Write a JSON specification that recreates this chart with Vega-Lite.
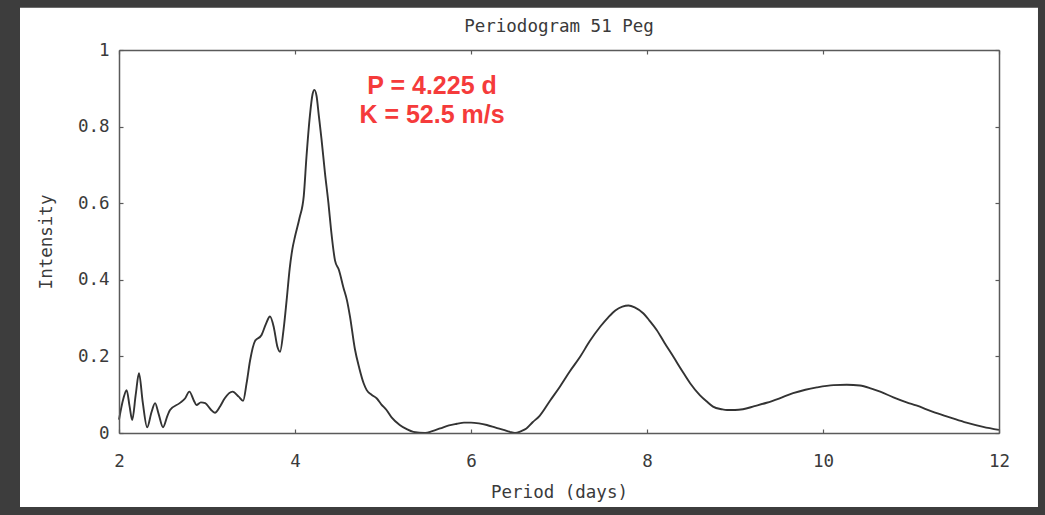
{
  "$schema": "https://vega.github.io/schema/vega-lite/v6.json",
  "width": 880,
  "height": 383,
  "autosize": {"type": "none"},
  "padding": {"left": 119, "top": 50, "right": 46, "bottom": 82},
  "background": "#3d3d3d",
  "title": {
    "text": "Periodogram 51 Peg",
    "anchor": "middle",
    "frame": "group",
    "font": "DejaVu Sans Mono",
    "fontSize": 17.5,
    "fontWeight": "normal",
    "color": "#3a3a3a",
    "offset": 0,
    "dy": 28,
    "zindex": 2
  },
  "config": {
    "view": {"stroke": null},
    "axis": {
      "labelFont": "DejaVu Sans Mono",
      "labelFontSize": 17.5,
      "labelColor": "#3a3a3a",
      "labelFlush": false,
      "titleFont": "DejaVu Sans Mono",
      "titleFontSize": 17.5,
      "titleFontWeight": "normal",
      "titleColor": "#3a3a3a",
      "grid": false,
      "domain": true,
      "domainColor": "#5a5a5a",
      "domainWidth": 1.5,
      "tickColor": "#5a5a5a",
      "tickSize": -4,
      "tickWidth": 1.2
    }
  },
  "datasets": {
    "panel": [{"x0": 0.875, "x1": 12.443, "y0": -0.193, "y1": 1.11}],
    "periodogram": [
      {"period": 2.00, "intensity": 0.035},
      {"period": 2.05, "intensity": 0.09},
      {"period": 2.087, "intensity": 0.112},
      {"period": 2.12, "intensity": 0.07},
      {"period": 2.15, "intensity": 0.034},
      {"period": 2.19, "intensity": 0.10},
      {"period": 2.227, "intensity": 0.156},
      {"period": 2.27, "intensity": 0.08},
      {"period": 2.32, "intensity": 0.015},
      {"period": 2.37, "intensity": 0.055},
      {"period": 2.41, "intensity": 0.078},
      {"period": 2.45, "intensity": 0.05},
      {"period": 2.50, "intensity": 0.015},
      {"period": 2.55, "intensity": 0.045},
      {"period": 2.58, "intensity": 0.06},
      {"period": 2.69, "intensity": 0.078},
      {"period": 2.75, "intensity": 0.09},
      {"period": 2.80, "intensity": 0.108},
      {"period": 2.85, "intensity": 0.085},
      {"period": 2.88, "intensity": 0.073},
      {"period": 2.93, "intensity": 0.08},
      {"period": 2.98, "intensity": 0.078},
      {"period": 3.04, "intensity": 0.062},
      {"period": 3.09, "intensity": 0.053},
      {"period": 3.15, "intensity": 0.07},
      {"period": 3.20, "intensity": 0.09},
      {"period": 3.29, "intensity": 0.108},
      {"period": 3.36, "intensity": 0.095},
      {"period": 3.41, "intensity": 0.084},
      {"period": 3.45, "intensity": 0.13},
      {"period": 3.49, "intensity": 0.19},
      {"period": 3.545, "intensity": 0.240},
      {"period": 3.62, "intensity": 0.256},
      {"period": 3.67, "intensity": 0.285},
      {"period": 3.716, "intensity": 0.304},
      {"period": 3.76, "intensity": 0.275},
      {"period": 3.80, "intensity": 0.225},
      {"period": 3.83, "intensity": 0.212},
      {"period": 3.87, "intensity": 0.27},
      {"period": 3.905, "intensity": 0.347},
      {"period": 3.94, "intensity": 0.43},
      {"period": 3.97, "intensity": 0.48},
      {"period": 4.00, "intensity": 0.513},
      {"period": 4.05, "intensity": 0.56},
      {"period": 4.10, "intensity": 0.62},
      {"period": 4.13, "intensity": 0.72},
      {"period": 4.17, "intensity": 0.83},
      {"period": 4.20, "intensity": 0.885},
      {"period": 4.22, "intensity": 0.896},
      {"period": 4.245, "intensity": 0.88},
      {"period": 4.27, "intensity": 0.83},
      {"period": 4.30, "intensity": 0.77},
      {"period": 4.34, "intensity": 0.68},
      {"period": 4.38, "intensity": 0.60},
      {"period": 4.41, "intensity": 0.53},
      {"period": 4.455, "intensity": 0.45},
      {"period": 4.50, "intensity": 0.425},
      {"period": 4.55, "intensity": 0.38},
      {"period": 4.59, "intensity": 0.347},
      {"period": 4.625, "intensity": 0.304},
      {"period": 4.68, "intensity": 0.22},
      {"period": 4.73, "intensity": 0.17},
      {"period": 4.78, "intensity": 0.13},
      {"period": 4.815, "intensity": 0.112},
      {"period": 4.87, "intensity": 0.100},
      {"period": 4.93, "intensity": 0.09},
      {"period": 4.98, "intensity": 0.075},
      {"period": 5.04, "intensity": 0.06},
      {"period": 5.10, "intensity": 0.04},
      {"period": 5.19, "intensity": 0.021},
      {"period": 5.27, "intensity": 0.01},
      {"period": 5.345, "intensity": 0.003},
      {"period": 5.48, "intensity": 0.0},
      {"period": 5.56, "intensity": 0.005},
      {"period": 5.65, "intensity": 0.012},
      {"period": 5.75, "intensity": 0.02},
      {"period": 5.84, "intensity": 0.024},
      {"period": 5.92, "intensity": 0.027},
      {"period": 6.00, "intensity": 0.027},
      {"period": 6.09, "intensity": 0.025},
      {"period": 6.18, "intensity": 0.021},
      {"period": 6.28, "intensity": 0.014},
      {"period": 6.37, "intensity": 0.008},
      {"period": 6.44, "intensity": 0.003},
      {"period": 6.50, "intensity": 0.0},
      {"period": 6.57, "intensity": 0.005},
      {"period": 6.63, "intensity": 0.012},
      {"period": 6.70, "intensity": 0.028},
      {"period": 6.78, "intensity": 0.045},
      {"period": 6.90, "intensity": 0.085},
      {"period": 7.01, "intensity": 0.121},
      {"period": 7.12, "intensity": 0.16},
      {"period": 7.24, "intensity": 0.199},
      {"period": 7.35, "intensity": 0.24},
      {"period": 7.47, "intensity": 0.278},
      {"period": 7.56, "intensity": 0.302},
      {"period": 7.64, "intensity": 0.320},
      {"period": 7.72, "intensity": 0.330},
      {"period": 7.79, "intensity": 0.333},
      {"period": 7.86, "intensity": 0.328},
      {"period": 7.96, "intensity": 0.312},
      {"period": 8.03, "intensity": 0.293},
      {"period": 8.11, "intensity": 0.269},
      {"period": 8.20, "intensity": 0.235},
      {"period": 8.30, "intensity": 0.199},
      {"period": 8.40, "intensity": 0.162},
      {"period": 8.49, "intensity": 0.13},
      {"period": 8.60, "intensity": 0.099},
      {"period": 8.68, "intensity": 0.082},
      {"period": 8.75, "intensity": 0.069},
      {"period": 8.85, "intensity": 0.062},
      {"period": 8.91, "intensity": 0.06},
      {"period": 9.00, "intensity": 0.06},
      {"period": 9.09, "intensity": 0.062},
      {"period": 9.22, "intensity": 0.07},
      {"period": 9.36, "intensity": 0.079},
      {"period": 9.50, "intensity": 0.09},
      {"period": 9.66, "intensity": 0.104},
      {"period": 9.80, "intensity": 0.113},
      {"period": 9.93, "intensity": 0.119},
      {"period": 10.12, "intensity": 0.125},
      {"period": 10.27, "intensity": 0.126},
      {"period": 10.42, "intensity": 0.124},
      {"period": 10.55, "intensity": 0.116},
      {"period": 10.65, "intensity": 0.108},
      {"period": 10.80, "intensity": 0.093},
      {"period": 10.95, "intensity": 0.08},
      {"period": 11.06, "intensity": 0.072},
      {"period": 11.25, "intensity": 0.055},
      {"period": 11.44, "intensity": 0.041},
      {"period": 11.63, "intensity": 0.027},
      {"period": 11.82, "intensity": 0.016},
      {"period": 12.00, "intensity": 0.008}
    ],
    "annotation": [
      {"period": 5.557, "intensity": 0.906, "label": "P = 4.225 d"},
      {"period": 5.557, "intensity": 0.830, "label": "K = 52.5 m/s"}
    ]
  },
  "layer": [
    {
      "layer": [
        {
          "data": {"name": "panel"},
          "mark": {"type": "rect", "color": "#ffffff", "clip": false},
          "encoding": {
            "x": {
              "field": "x0", "type": "quantitative", "title": "Period (days)",
              "scale": {"domain": [2, 12], "nice": false, "zero": false},
              "axis": {"zindex": 1, "title": "Period (days)", "values": [2, 4, 6, 8, 10, 12], "format": "d", "labelPadding": 23, "titlePadding": 14, "orient": "bottom"}
            },
            "x2": {"field": "x1"},
            "y": {
              "field": "y0", "type": "quantitative", "title": "Intensity",
              "scale": {"domain": [0, 1], "nice": false},
              "axis": {"zindex": 1, "title": "Intensity", "values": [0, 0.2, 0.4, 0.6, 0.8, 1], "format": "~g", "labelPadding": 14, "titlePadding": 22, "orient": "left"}
            },
            "y2": {"field": "y1"}
          }
        },
        {
          "data": {"name": "periodogram"},
          "mark": {"type": "line", "color": "#333333", "strokeWidth": 1.9, "interpolate": "monotone"},
          "encoding": {
            "x": {"field": "period", "type": "quantitative", "title": "Period (days)", "scale": {"domain": [2, 12], "nice": false, "zero": false}},
            "y": {"field": "intensity", "type": "quantitative", "title": "Intensity", "scale": {"domain": [0, 1], "nice": false}}
          }
        }
      ]
    },
    {
      "data": {"name": "annotation"},
      "mark": {"type": "text", "color": "#f53b3b", "font": "Liberation Sans", "fontWeight": "bold", "fontSize": 25, "align": "center", "baseline": "middle"},
      "encoding": {
        "x": {
          "field": "period", "type": "quantitative",
          "scale": {"domain": [2, 12], "nice": false, "zero": false},
          "axis": {"zindex": 1, "orient": "top", "title": null, "labels": false, "values": [2, 4, 6, 8, 10, 12]}
        },
        "y": {
          "field": "intensity", "type": "quantitative",
          "scale": {"domain": [0, 1], "nice": false},
          "axis": {"zindex": 1, "orient": "right", "title": null, "labels": false, "values": [0, 0.2, 0.4, 0.6, 0.8, 1]}
        },
        "text": {"field": "label"}
      }
    }
  ],
  "resolve": {"scale": {"x": "independent", "y": "independent"}}
}
